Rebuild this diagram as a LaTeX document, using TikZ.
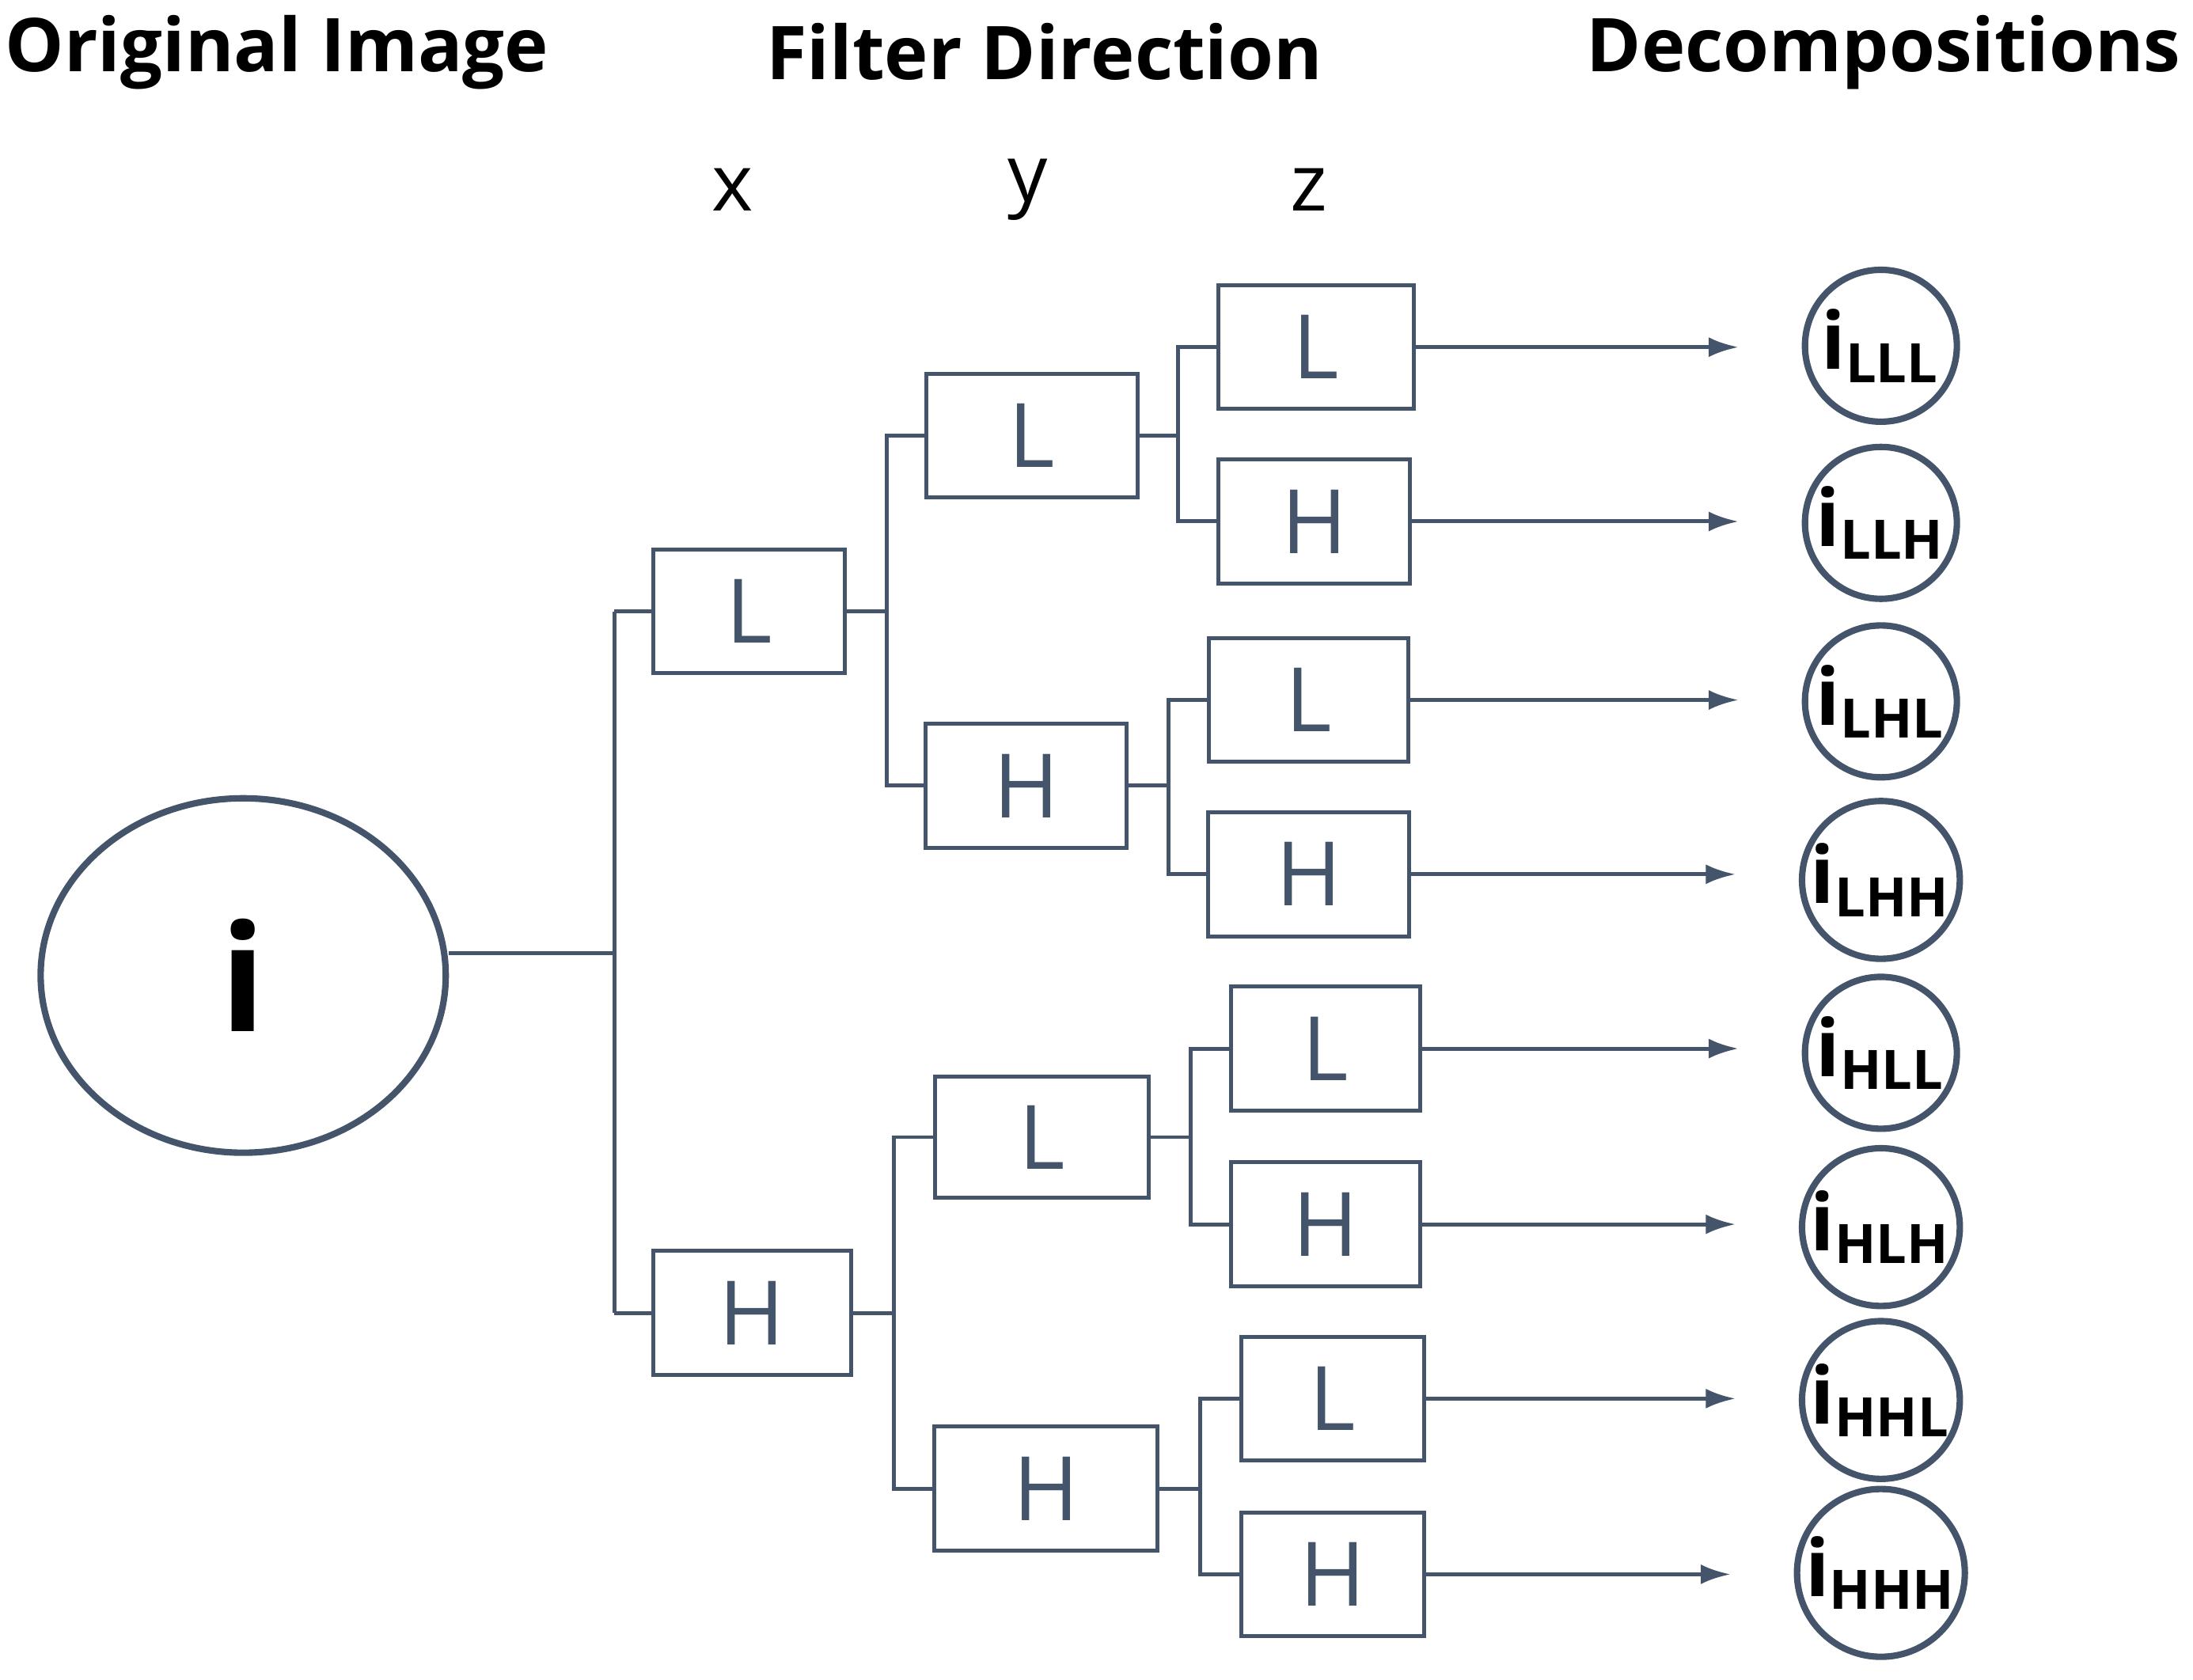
\documentclass[tikz,border=0pt]{standalone}
\usepackage{fontspec}
\setmainfont{Open Sans}
\usetikzlibrary{shapes.geometric,arrows.meta}
\begin{document}
\begin{tikzpicture}[x=0.01cm,y=-0.01cm,
  box/.style={draw=lc,line width=0.8pt,inner sep=0pt,text=lc,font=\fontsize{18}{20}\selectfont},
  dec/.style={circle,draw=lc,line width=1.3pt,minimum size=1.08cm,inner sep=0pt,font=\bfseries\fontsize{16}{18}\selectfont},
  ttl/.style={font=\bfseries\fontsize{15}{18}\selectfont},
  ax/.style={font=\fontsize{16}{18}\selectfont},
  ln/.style={draw=lc,line width=0.8pt},
  arr/.style={ln,-{Latex[length=6pt,width=4pt]},shorten >=0.45cm}]
\definecolor{lc}{HTML}{44546A}
\useasboundingbox (0,0) rectangle (1560,1195);
\node[ttl] (t1) at (197,37) {Original Image};
\node[ttl] (t2) at (743,37) {Filter Direction};
\node[ttl] (t3) at (1340,37) {Decompositions};
\node[ax] (ax) at (521,135) {x};
\node[ax] (ay) at (731,135) {y};
\node[ax] (az) at (931,135) {z};
\node[ellipse,draw=lc,line width=1.3pt,minimum width=2.88cm,minimum height=2.52cm,font=\bfseries\fontsize{30}{32}\selectfont] (i) at (173,694) {i};
% x level
\node[box,minimum width=1.36cm,minimum height=0.88cm] (L) at (533,435) {L};
\node[box,minimum width=1.41cm,minimum height=0.88cm] (H) at (535,934) {H};
% y level
\node[box,minimum width=1.50cm,minimum height=0.88cm] (LL) at (734,310) {L};
\node[box,minimum width=1.43cm,minimum height=0.88cm] (LH) at (730,559) {H};
\node[box,minimum width=1.52cm,minimum height=0.86cm] (HL) at (741,809) {L};
\node[box,minimum width=1.59cm,minimum height=0.88cm] (HH) at (744,1059) {H};
% z level
\node[box,minimum width=1.39cm,minimum height=0.88cm] (LLL) at (936,247) {L};
\node[box,minimum width=1.36cm,minimum height=0.88cm] (LLH) at (935,371) {H};
\node[box,minimum width=1.42cm,minimum height=0.88cm] (LHL) at (931,498) {L};
\node[box,minimum width=1.43cm,minimum height=0.88cm] (LHH) at (931,622) {H};
\node[box,minimum width=1.34cm,minimum height=0.88cm] (HLL) at (943,746) {L};
\node[box,minimum width=1.34cm,minimum height=0.88cm] (HLH) at (943,871) {H};
\node[box,minimum width=1.30cm,minimum height=0.88cm] (HHL) at (948,995) {L};
\node[box,minimum width=1.30cm,minimum height=0.88cm] (HHH) at (948,1120) {H};
% circles
\foreach \n/\s/\y in {cLLL/LLL/246,cLLH/LLH/372,cLHL/LHL/499,cLHH/LHH/626,cHLL/HLL/749,cHLH/HLH/873,cHHL/HHL/996,cHHH/HHH/1119}
  \node[dec] (\n) at (1338,\y) {i\textsubscript{\fontsize{11}{12}\selectfont\s}};
% forks
\coordinate (f0) at (437,678);
\draw[ln] (i.east |- f0) -- (f0) (f0 |- L) -- (f0 |- H);
\draw[ln] (f0 |- L) -- (L.west) (f0 |- H) -- (H.west);
\foreach \p/\a/\b/\fx in {L/LL/LH/631, H/HL/HH/636, LL/LLL/LLH/838, LH/LHL/LHH/831, HL/HLL/HLH/847, HH/HHL/HHH/854}{
  \coordinate (f\p) at (\fx,0);
  \draw[ln] (\p.east) -- (\p.east -| f\p);
  \draw[ln] (\a.west) -| (f\p |- \b) -- (\b.west);
}
\foreach \z in {LLL,LLH,LHL,LHH,HLL,HLH,HHL,HHH}
  \draw[arr] (\z.east) -- (\z.east -| c\z.west);
\end{tikzpicture}
\end{document}
